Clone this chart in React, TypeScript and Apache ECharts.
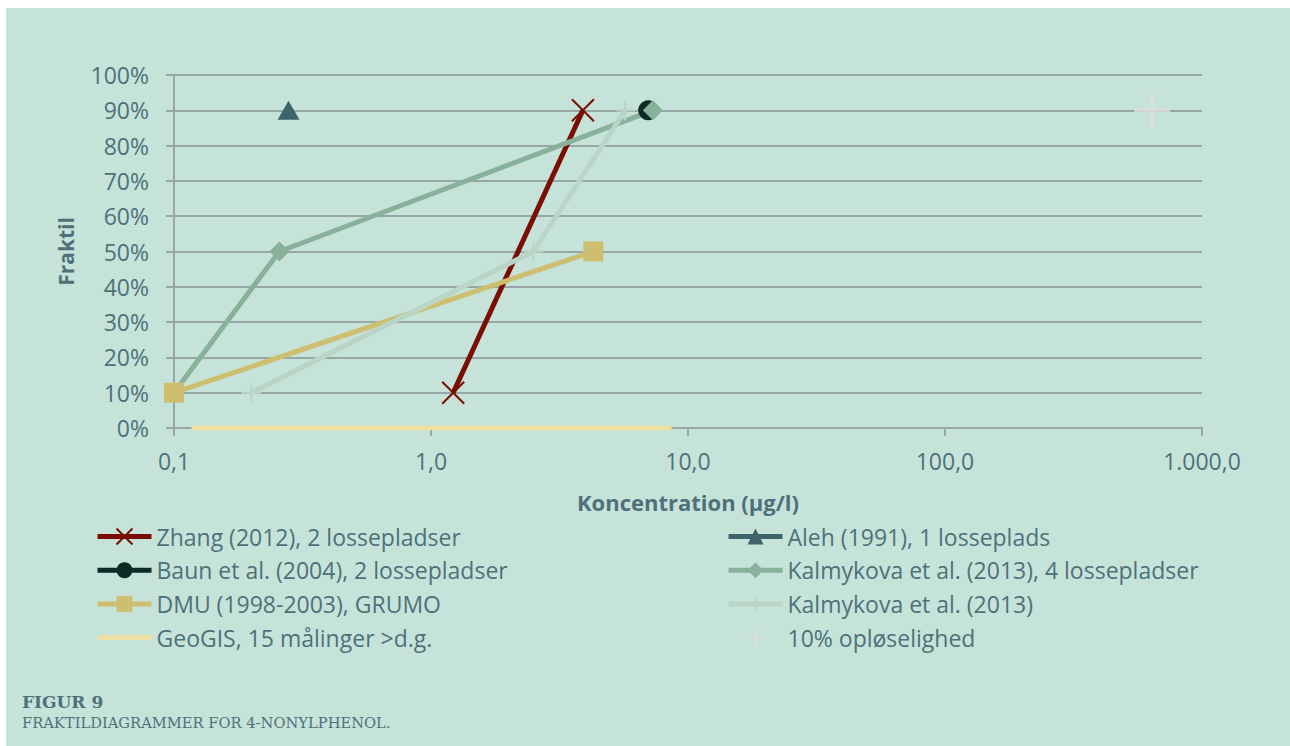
import React, { useEffect, useRef } from "react";
import * as echarts from "echarts";

// ---- Data ----
const seriesNames = [
  "Zhang (2012), 2 lossepladser",
  "Aleh (1991), 1 losseplads",
  "Baun et al. (2004), 2 lossepladser",
  "Kalmykova et al. (2013), 4 lossepladser",
  "DMU (1998-2003), GRUMO",
  "Kalmykova et al. (2013)",
  "GeoGIS, 15 målinger >d.g.",
  "10% opløselighed",
];

const zhangX = [1.22, 3.9];
const zhangY = [0.1, 0.9];
const alehX = [0.279];
const alehY = [0.9];
const baunX = [7.0];
const baunY = [0.9];
const kalm4X = [0.1, 0.257, 7.3];
const kalm4Y = [0.1, 0.5, 0.9];
const dmuX = [0.1, 4.28];
const dmuY = [0.1, 0.5];
const kalmX = [0.2, 2.5, 5.7];
const kalmY = [0.1, 0.5, 0.9];
const geoX = [0.117, 8.64];
const geoY = [0, 0];
const solX = [640];
const solY = [0.9];

const xTicks = [0.1, 1, 10, 100, 1000];
const xTickLabels = ["0,1", "1,0", "10,0", "100,0", "1.000,0"];

const xAxisTitle = "Koncentration (µg/l)";
const yAxisTitle = "Fraktil";
const captionTitle = "FIGUR 9";
const captionText = "FRAKTILDIAGRAMMER FOR 4-NONYLPHENOL.";

const TEXT = "#4E7179";
const GRID = "#98A6A6";
const BG = "#C6E3DA";
const FONT = "'Open Sans', 'Noto Sans', sans-serif";
const SERIF = "'DejaVu Serif', 'Liberation Serif', serif";

const zip = (xs: number[], ys: number[]) => xs.map((x, i) => [x, ys[i]]);

const X_PATH = "path://M0,0L10,10M0,10L10,0";
const PLUS_PATH = "path://M5,0L5,10M0,5L10,5";
const BAR_ICON = "path://M0,0H54V5H0Z";

export default function App() {
  const ref = useRef<HTMLDivElement>(null);

  useEffect(() => {
    if (!ref.current) return;
    const chart = echarts.init(ref.current, null, { renderer: "svg" });

    const fmtX = (v: number) => {
      let best = 0;
      let bd = Infinity;
      xTicks.forEach((t, i) => {
        const d = Math.abs(Math.log10(v) - Math.log10(t));
        if (d < bd) {
          bd = d;
          best = i;
        }
      });
      return bd < 0.01 ? xTickLabels[best] : "";
    };

    const legendText = { color: TEXT, fontSize: 23, fontFamily: FONT, lineHeight: 22 };

    const option: any = {
      animation: false,
      backgroundColor: "#ffffff",
      textStyle: { fontFamily: FONT },
      graphic: [
        {
          type: "rect",
          z: -10,
          shape: { x: 6, y: 8, width: 1284, height: 738 },
          style: { fill: BG },
          silent: true,
        },
        {
          type: "text",
          left: 22,
          top: 693,
          style: {
            text: captionTitle,
            fill: TEXT,
            font: "bold 17px " + SERIF,
          },
        },
        {
          type: "text",
          left: 22,
          top: 715,
          style: {
            text: captionText,
            fill: TEXT,
            font: "14.7px " + SERIF,
          },
        },
      ],
      grid: { left: 174, top: 75, width: 1028, height: 353, containLabel: false },
      legend: [
        {
          data: [
            seriesNames[0],
            seriesNames[2],
            seriesNames[4],
            { name: seriesNames[6], icon: BAR_ICON },
          ],
          orient: "vertical",
          left: 95,
          top: 525,
          padding: 0,
          itemWidth: 54,
          itemHeight: 20,
          itemGap: 10.7,
          lineStyle: { width: 5 },
          textStyle: legendText,
        },
        {
          data: [seriesNames[1], seriesNames[3], seriesNames[5], seriesNames[7]],
          orient: "vertical",
          left: 726,
          top: 525,
          padding: 0,
          itemWidth: 54,
          itemHeight: 20,
          itemGap: 10.7,
          lineStyle: { width: 5 },
          textStyle: legendText,
        },
      ],
      xAxis: {
        type: "log",
        logBase: 10,
        min: 0.1,
        max: 1000,
        name: xAxisTitle,
        nameLocation: "middle",
        nameGap: 63,
        nameTextStyle: { color: TEXT, fontSize: 22, fontWeight: "bold", fontFamily: FONT },
        axisLine: { show: true, lineStyle: { color: GRID, width: 2 } },
        axisTick: { show: true, length: 8, lineStyle: { color: GRID, width: 2 } },
        axisLabel: { color: TEXT, fontSize: 23, margin: 21, formatter: fmtX, fontFamily: FONT },
        splitLine: { show: false },
        minorTick: { show: false },
      },
      yAxis: {
        type: "value",
        min: 0,
        max: 1,
        interval: 0.1,
        name: yAxisTitle,
        nameLocation: "middle",
        nameGap: 98,
        nameTextStyle: { color: TEXT, fontSize: 21, fontWeight: "bold", fontFamily: FONT },
        axisLine: { show: true, lineStyle: { color: GRID, width: 2 } },
        axisTick: { show: true, length: 8, lineStyle: { color: GRID, width: 2 } },
        axisLabel: {
          color: TEXT,
          fontSize: 23,
          margin: 25,
          fontFamily: FONT,
          formatter: (v: number) => Math.round(v * 100) + "%",
        },
        splitLine: { show: true, lineStyle: { color: GRID, width: 2 } },
      },
      series: [
        {
          name: seriesNames[0],
          type: "line",
          data: zip(zhangX, zhangY),
          symbol: X_PATH,
          symbolSize: 22,
          lineStyle: { color: "#7A0E02", width: 5 },
          itemStyle: { color: "#7A0E02", borderColor: "#7A0E02", borderWidth: 2 },
        },
        {
          name: seriesNames[1],
          type: "line",
          data: zip(alehX, alehY),
          symbol: "triangle",
          symbolSize: [22, 19],
          lineStyle: { color: "#3F636A", width: 5 },
          itemStyle: { color: "#3F636A" },
        },
        {
          name: seriesNames[2],
          type: "line",
          data: zip(baunX, baunY),
          symbol: "circle",
          symbolSize: 20,
          lineStyle: { color: "#0D2B26", width: 5 },
          itemStyle: { color: "#0D2B26" },
        },
        {
          name: seriesNames[3],
          type: "line",
          data: zip(kalm4X, kalm4Y),
          symbol: "diamond",
          symbolSize: 20,
          lineStyle: { color: "#88B19B", width: 5 },
          itemStyle: { color: "#88B19B" },
        },
        {
          name: seriesNames[4],
          type: "line",
          data: zip(dmuX, dmuY),
          symbol: "rect",
          symbolSize: 20,
          lineStyle: { color: "#CEBF70", width: 5 },
          itemStyle: { color: "#CEBF70" },
        },
        {
          name: seriesNames[5],
          type: "line",
          data: zip(kalmX, kalmY),
          symbol: PLUS_PATH,
          symbolSize: 20,
          lineStyle: { color: "#B8D5C6", width: 5 },
          itemStyle: { color: "#B8D5C6", borderColor: "#B8D5C6", borderWidth: 2 },
        },
        {
          name: seriesNames[6],
          type: "line",
          data: zip(geoX, geoY),
          symbol: "none",
          lineStyle: { color: "#EEDFA2", width: 5 },
          itemStyle: { color: "#EEDFA2" },
        },
        {
          name: seriesNames[7],
          type: "scatter",
          data: zip(solX, solY),
          symbol: PLUS_PATH,
          symbolSize: 36,
          itemStyle: { color: "#DEDFDF", borderColor: "#DEDFDF", borderWidth: 4 },
        },
      ],
    };

    chart.setOption(option);
    return () => chart.dispose();
  }, []);

  return (
    <div
      ref={ref}
      style={{ position: "fixed", left: 0, top: 0, width: 1290, height: 746 }}
    />
  );
}
